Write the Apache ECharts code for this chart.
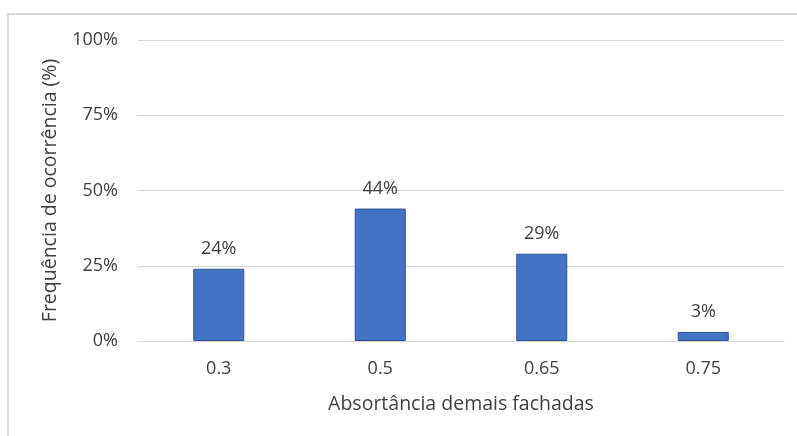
<!DOCTYPE html>
<html>
<head>
<meta charset="utf-8">
<script src="https://cdn.jsdelivr.net/npm/echarts@6/dist/echarts.min.js"></script>
<style>
  html, body { margin: 0; padding: 0; background: #fff; }
  #chart { width: 797px; height: 436px; }
</style>
</head>
<body>
<div id="chart"></div>
<script>
// Absorptance classes of the remaining façades and their frequency of occurrence
const categories = ['0.3', '0.5', '0.65', '0.75'];
const frequencies = [24, 44, 29, 3];
const yTicks = [0, 25, 50, 75, 100];

const textColor = '#404040';
const fontFamily = '"Open Sans", "Noto Sans", sans-serif';

const chart = echarts.init(document.getElementById('chart'), null, { renderer: 'canvas' });

chart.setOption({
  backgroundColor: '#ffffff',
  animation: false,
  textStyle: { fontFamily: fontFamily },
  graphic: [{
    type: 'polyline',
    shape: { points: [[8, 436], [8, 14], [797, 14]] },
    style: { stroke: '#d9d9d9', lineWidth: 2, fill: null },
    silent: true
  }],
  grid: { left: 138, right: 13, top: 40, bottom: 95, containLabel: false },
  xAxis: {
    type: 'category',
    data: categories,
    name: 'Absortância demais fachadas',
    nameLocation: 'middle',
    nameGap: 53,
    nameTextStyle: { color: textColor, fontSize: 19.5, fontFamily: fontFamily },
    axisLine: { show: true, lineStyle: { color: '#d4d4d4', width: 1 } },
    axisTick: { show: false },
    axisLabel: { color: textColor, fontSize: 18, margin: 19, fontFamily: fontFamily }
  },
  yAxis: {
    type: 'value',
    min: yTicks[0],
    max: yTicks[yTicks.length - 1],
    interval: 25,
    name: 'Frequência de ocorrência (%)',
    nameLocation: 'middle',
    nameGap: 78,
    nameRotate: 90,
    nameTextStyle: { color: textColor, fontSize: 19.5, fontFamily: fontFamily },
    axisLine: { show: false },
    axisTick: { show: false },
    axisLabel: { color: textColor, fontSize: 18, margin: 20, formatter: '{value}%', fontFamily: fontFamily },
    splitLine: { show: true, lineStyle: { color: '#d4d4d4', width: 1 } }
  },
  series: [{
    type: 'bar',
    data: frequencies,
    barWidth: '31.6%',
    itemStyle: { color: '#4472c4', borderColor: '#2f5597', borderWidth: 1 },
    label: {
      show: true,
      position: 'top',
      distance: 11,
      formatter: '{c}%',
      color: textColor,
      fontSize: 18,
      fontFamily: fontFamily
    }
  }]
});
</script>
</body>
</html>
